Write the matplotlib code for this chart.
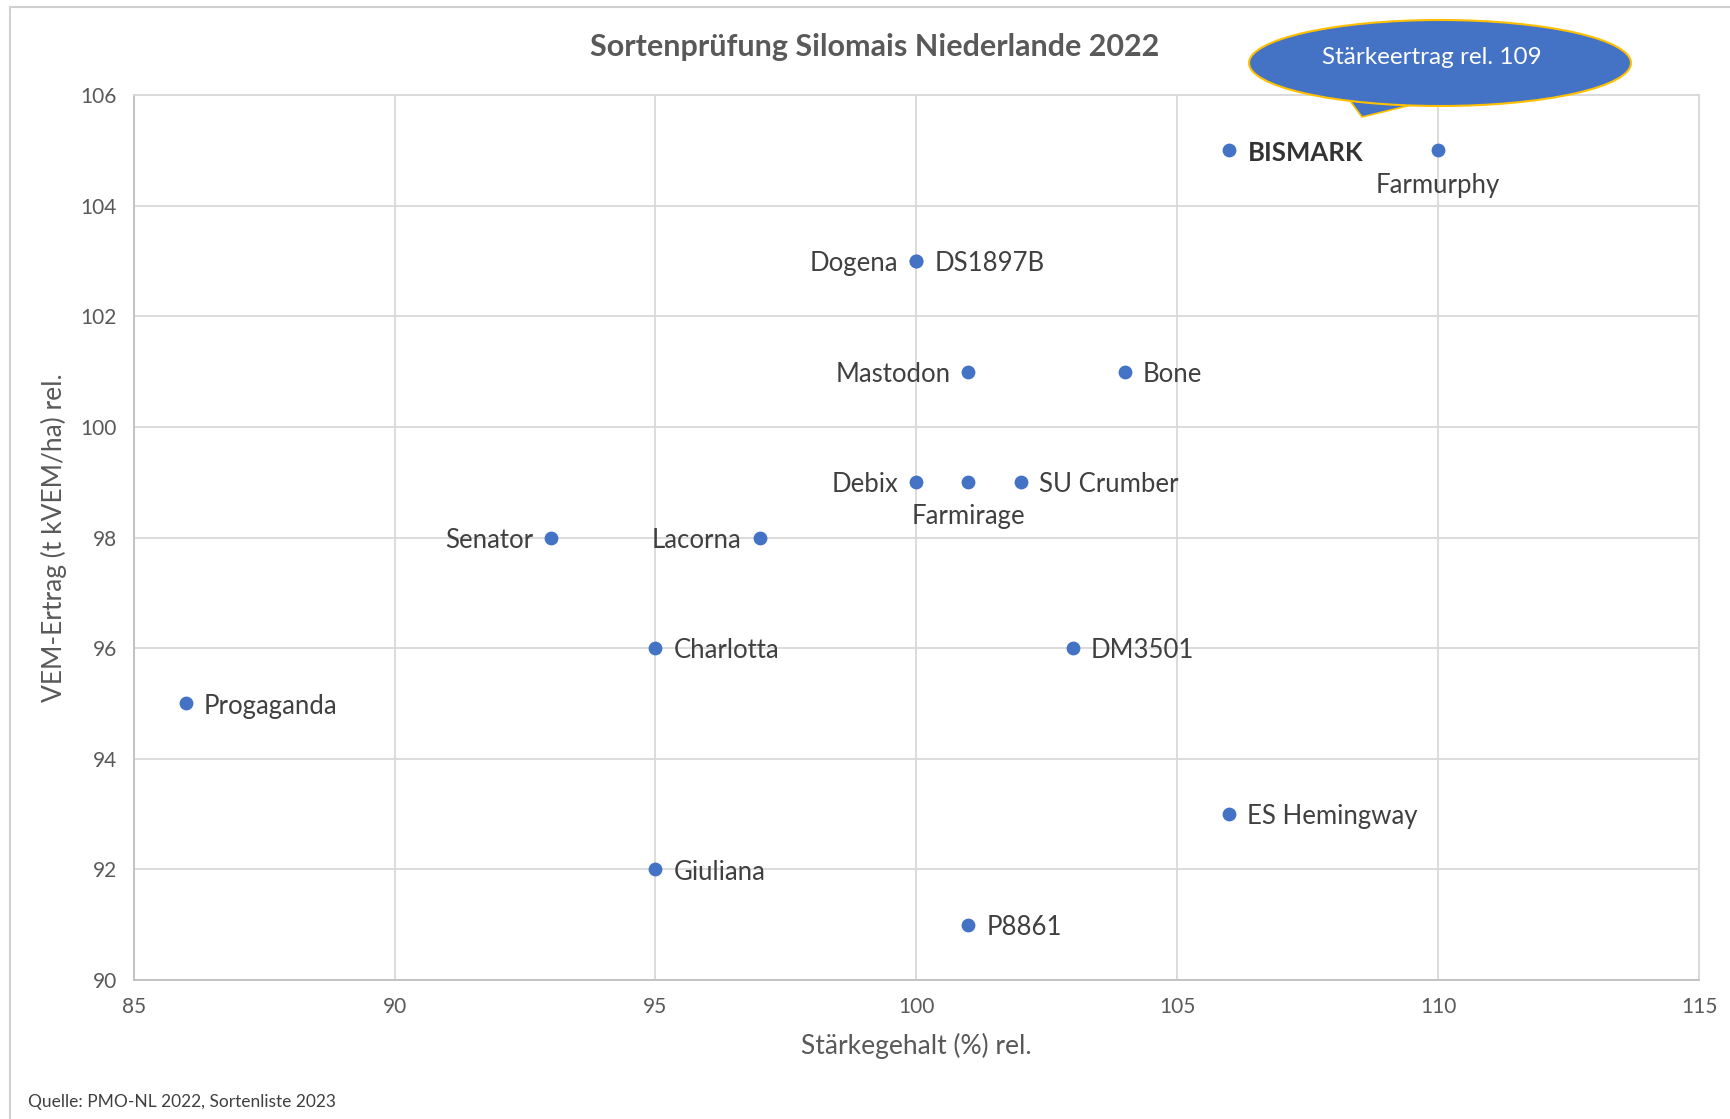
import matplotlib.pyplot as plt
from matplotlib.patches import Ellipse, Polygon

plt.rcParams['font.family'] = ['Lato', 'DejaVu Sans']

# Sorten, Stärkegehalt rel. (x) und VEM-Ertrag rel. (y)
sorten = ['BISMARK', 'Farmurphy', 'Dogena', 'DS1897B', 'Mastodon', 'Bone',
          'Debix', 'Farmirage', 'SU Crumber', 'Senator', 'Lacorna', 'Charlotta',
          'DM3501', 'Progaganda', 'ES Hemingway', 'Giuliana', 'P8861']
staerke = [106, 110, 100, 100, 101, 104, 100, 101, 102, 93, 97, 95, 103, 86, 106, 95, 101]
vem = [105, 105, 103, 103, 101, 101, 99, 99, 99, 98, 98, 96, 96, 95, 93, 92, 91]
# label side: r = right, l = left, b = below
seite = ['r', 'b', 'l', 'r', 'l', 'r', 'l', 'b', 'r', 'l', 'l', 'r', 'r', 'r', 'r', 'r', 'r']

xticks = [85, 90, 95, 100, 105, 110, 115]
yticks = [90, 92, 94, 96, 98, 100, 102, 104, 106]

blau = '#4472C4'
grau = '#595959'

fig = plt.figure(figsize=(17.31, 11.19), dpi=100)
ax = fig.add_axes([0.0772, 0.1242, 0.9043, 0.7909])

ax.scatter(staerke, vem, s=80, color=blau, zorder=3)

for name, x, y, s in zip(sorten, staerke, vem, seite):
    bold = name == 'BISMARK'
    kw = dict(fontsize=18.5, color='#333333' if bold else '#404040',
              fontweight='bold' if bold else 'normal', textcoords='offset points')
    if s == 'r':
        ax.annotate(name, (x, y), xytext=(13, -2), ha='left', va='center', **kw)
    elif s == 'l':
        ax.annotate(name, (x, y), xytext=(-13, -2), ha='right', va='center', **kw)
    else:
        ax.annotate(name, (x, y), xytext=(0, -16), ha='center', va='top', **kw)

ax.set_xlim(85, 115)
ax.set_ylim(90, 106)
ax.set_xticks(xticks)
ax.set_yticks(yticks)
ax.grid(True, color='#D9D9D9', linewidth=1.3)
ax.set_axisbelow(True)
for sp in ax.spines.values():
    sp.set_color('#D9D9D9')
    sp.set_linewidth(1.3)
ax.spines['bottom'].set_color('#BFBFBF')
ax.spines['left'].set_color('#BFBFBF')
ax.tick_params(length=0, labelsize=15, labelcolor=grau, pad=12)

ax.set_xlabel('Stärkegehalt (%) rel.', fontsize=19, color=grau, labelpad=12)
ax.set_ylabel('VEM-Ertrag (t kVEM/ha) rel.', fontsize=19, color=grau, labelpad=10)

fig.text(0.5055, 0.958, 'Sortenprüfung Silomais Niederlande 2022', ha='center', va='center',
         fontsize=22, fontweight='bold', color=grau)
fig.text(0.016, 0.015, 'Quelle: PMO-NL 2022, Sortenliste 2023', ha='left', va='center',
         fontsize=12.5, color='#404040')

# Sprechblase
W, H = 1731, 1119
tail = Polygon([(1345 / W, 1 - 94 / H), (1362 / W, 1 - 117 / H), (1440 / W, 1 - 98 / H)],
               closed=True, transform=fig.transFigure, facecolor=blau,
               edgecolor='#FFC000', linewidth=1.2)
fig.patches.append(tail)
ell = Ellipse((1440 / W, 1 - 63 / H), 382 / W, 86 / H, transform=fig.transFigure,
              facecolor=blau, edgecolor='#FFC000', linewidth=1.5)
fig.patches.append(ell)
fig.text(1432 / W, 1 - 58 / H, 'Stärkeertrag rel. 109', ha='center', va='center',
         fontsize=17.5, color='white')

# Rahmen
fig.add_artist(plt.Line2D([10 / W, 10 / W], [0, 1 - 7 / H], color='#D0D0D0', linewidth=1.5))
fig.add_artist(plt.Line2D([10 / W, 1], [1 - 7 / H, 1 - 7 / H], color='#D0D0D0', linewidth=1.5))

fig.savefig('out.png', dpi=100)
